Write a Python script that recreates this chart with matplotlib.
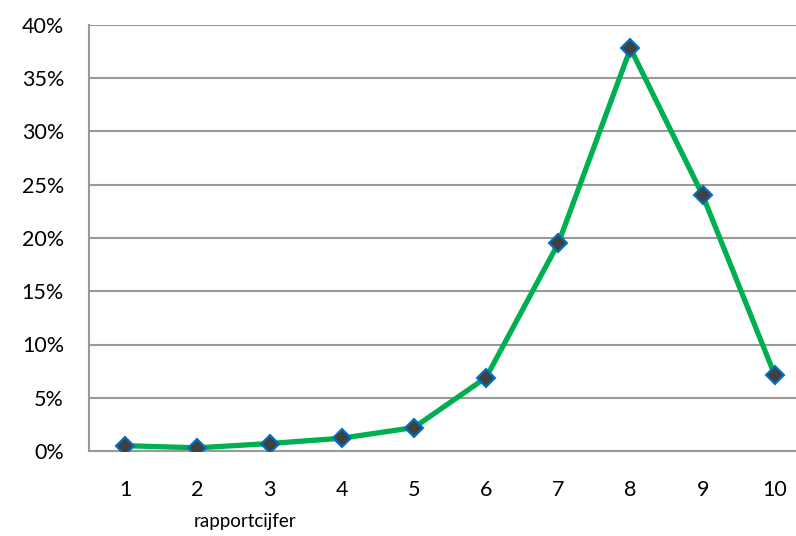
import matplotlib.pyplot as plt
from matplotlib.ticker import PercentFormatter

grades = [1, 2, 3, 4, 5, 6, 7, 8, 9, 10]
share = [0.5, 0.3, 0.7, 1.2, 2.2, 6.9, 19.5, 37.8, 24.0, 7.1]
y_ticks = [0, 5, 10, 15, 20, 25, 30, 35, 40]

plt.rcParams['font.family'] = ['Lato', 'DejaVu Sans']

fig = plt.figure(figsize=(7.96, 5.36), dpi=100)
# plot area runs past the right edge, as in the cropped original
ax = fig.add_axes([89 / 796, 85 / 536, 722 / 796, 426 / 536])

ax.plot(grades, share, color='#00B050', linewidth=3.8, zorder=3,
        marker='D', markersize=9, markerfacecolor='#404040',
        markeredgecolor='#0070C0', markeredgewidth=1.5)

ax.set_xlim(0.5, 10.5)
ax.set_ylim(0, 40)
ax.set_xticks(grades)
ax.set_yticks(y_ticks)
ax.yaxis.set_major_formatter(PercentFormatter(decimals=0))
ax.grid(axis='y', color='#999999', linewidth=1.5)
ax.set_axisbelow(True)

for side in ['top', 'right']:
    ax.spines[side].set_visible(False)
for side in ['left', 'bottom']:
    ax.spines[side].set_color('#999999')
    ax.spines[side].set_linewidth(1.5)

ax.tick_params(axis='both', length=0, labelsize=15.5, colors='black')
ax.tick_params(axis='x', pad=21)
ax.tick_params(axis='y', pad=18)

fig.text(245 / 796, 1 - 522 / 536, 'rapportcijfer', fontsize=13.5,
         ha='center', va='center')

fig.savefig('out.png', dpi=100)
plt.close(fig)
